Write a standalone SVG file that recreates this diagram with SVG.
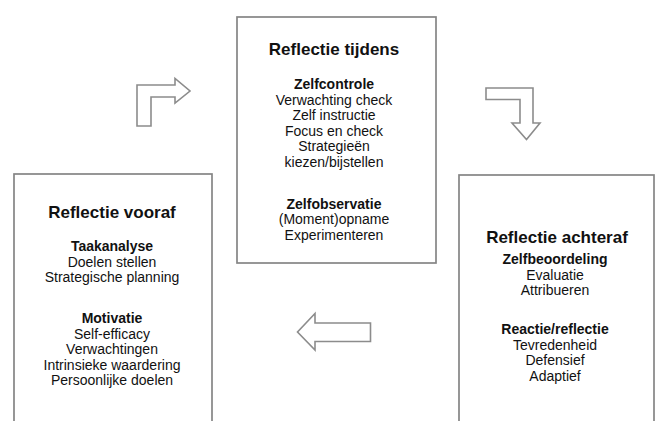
<svg xmlns="http://www.w3.org/2000/svg" width="662" height="421" viewBox="0 0 662 421">
<style>
.box{fill:#fff;stroke:#858585;stroke-width:1.7}
.arr{fill:#fff;stroke:#8c8c8c;stroke-width:1.6;stroke-linejoin:miter}
text{font-family:"Liberation Sans",Arial,sans-serif;fill:#111;text-anchor:middle}
.t{font-size:17px;font-weight:bold}
.h{font-size:14px;font-weight:bold}
.r{font-size:14px}
</style>
<rect width="662" height="421" fill="#fff"/>
<g id="connectors">
<path class="arr" d="M137,126 L137,85 L175,85 L175,78.5 L190,91 L175,103 L175,97 L151,97 L151,126 Z"/>
<path class="arr" d="M486,88 L533,88 L533,123 L540,123 L526.5,139.5 L512,123 L520,123 L520,99.5 L486,99.5 Z"/>
<path class="arr" d="M370.5,323 L315,323 L315,313.5 L297.5,332 L315,350 L315,341.5 L370.5,341.5 Z"/>
</g>
<g id="reflectie-tijdens">
<rect class="box" x="237" y="17" width="199" height="246"/>
<text class="t" x="334" y="55">Reflectie tijdens</text>
<text class="h" x="334" y="89">Zelfcontrole</text>
<text class="r" x="334" y="104.5">Verwachting check</text>
<text class="r" x="334" y="120">Zelf instructie</text>
<text class="r" x="334" y="135.5">Focus en check</text>
<text class="r" x="334" y="151">Strategieën</text>
<text class="r" x="334" y="166.5">kiezen/bijstellen</text>
<text class="h" x="334" y="208.5">Zelfobservatie</text>
<text class="r" x="334" y="224">(Moment)opname</text>
<text class="r" x="334" y="239.5">Experimenteren</text>
</g>
<g id="reflectie-vooraf">
<rect class="box" x="14" y="174" width="198" height="250"/>
<text class="t" x="112" y="218">Reflectie vooraf</text>
<text class="h" x="112" y="251">Taakanalyse</text>
<text class="r" x="112" y="266.5">Doelen stellen</text>
<text class="r" x="112" y="282">Strategische planning</text>
<text class="h" x="112" y="323">Motivatie</text>
<text class="r" x="112" y="338.5">Self-efficacy</text>
<text class="r" x="112" y="354">Verwachtingen</text>
<text class="r" x="112" y="369.5">Intrinsieke waardering</text>
<text class="r" x="112" y="385">Persoonlijke doelen</text>
</g>
<g id="reflectie-achteraf">
<rect class="box" x="459" y="175" width="195" height="250"/>
<text class="t" x="557" y="243">Reflectie achteraf</text>
<text class="h" x="555" y="264">Zelfbeoordeling</text>
<text class="r" x="555" y="279.5">Evaluatie</text>
<text class="r" x="555" y="295">Attribueren</text>
<text class="h" x="555" y="334">Reactie/reflectie</text>
<text class="r" x="555" y="349.5">Tevredenheid</text>
<text class="r" x="555" y="365">Defensief</text>
<text class="r" x="555" y="380.5">Adaptief</text>
</g>
</svg>
